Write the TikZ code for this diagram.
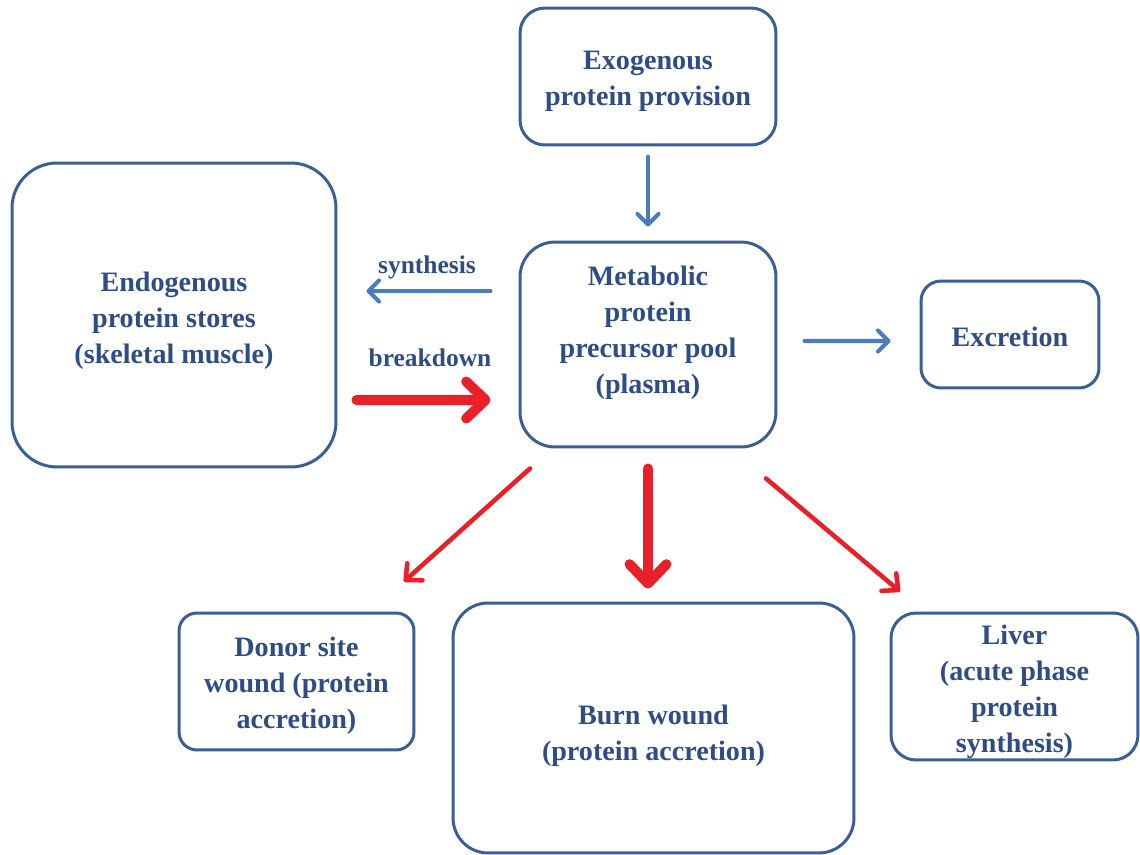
\documentclass[tikz,border=0pt]{standalone}
\usepackage{fontspec}
\setmainfont{Liberation Serif}
\usetikzlibrary{arrows.meta,calc}
\definecolor{boxblue}{HTML}{3B5E94}
\definecolor{txtblue}{HTML}{2E4C85}
\definecolor{arrblue}{HTML}{4A7CC0}
\definecolor{arrred}{HTML}{E8202A}
\tikzset{
  pbox/.style={draw=boxblue, line width=1.7pt, fill=white, inner sep=0pt},
  ptext/.style={text=txtblue, align=center, inner sep=0pt, font=\bfseries\fontsize{16}{20.4}\selectfont},
  lbl/.style={text=txtblue, inner sep=0pt, font=\bfseries\fontsize{14.5}{17}\selectfont},
  bluearr/.style={draw=arrblue, line width=2.3pt, line cap=round,
    -{Straight Barb[length=6pt,width=12pt,line cap=round,line join=round]}},
  redthin/.style={draw=arrred, line width=2.6pt, line cap=round,
    -{Straight Barb[length=7pt,width=13pt,line cap=round,line join=round]}},
  redthick/.style={draw=arrred, line width=5.7pt, line cap=round,
    -{Straight Barb[length=11pt,width=21pt,line cap=round,line join=round]}},
}
\begin{document}
\begin{tikzpicture}[x=0.02cm,y=-0.02cm]
\useasboundingbox[fill=white] (0,0) rectangle (1140,855);
% boxes
\node[pbox, minimum width=5.12cm, minimum height=2.74cm, rounded corners=0.5cm] (exo) at (648,76.5) {};
\node[ptext] (exot) at (648,81.5) {Exogenous\\protein provision};
\node[pbox, minimum width=6.48cm, minimum height=6.08cm, rounded corners=0.9cm] (endo) at (174,315) {};
\node[ptext] (endot) at (174,321) {Endogenous\\protein stores\\(skeletal muscle)};
\node[pbox, minimum width=5.12cm, minimum height=4.10cm, rounded corners=0.7cm] (meta) at (648,344.5) {};
\node[ptext] (metat) at (648,332.5) {Metabolic\\protein\\precursor pool\\(plasma)};
\node[pbox, minimum width=3.56cm, minimum height=2.14cm, rounded corners=0.4cm] (exc) at (1010,334.5) {};
\node[ptext] (exct) at (1010,336.5) {Excretion};
\node[pbox, minimum width=4.70cm, minimum height=2.74cm, rounded corners=0.36cm] (donor) at (296.5,681.5) {};
\node[ptext] (donort) at (296.5,685.5) {Donor site\\wound (protein\\accretion)};
\node[pbox, minimum width=8.02cm, minimum height=5.00cm, rounded corners=0.7cm] (burn) at (653.5,728) {};
\node[ptext] (burnt) at (653.5,736) {Burn wound\\(protein accretion)};
\node[pbox, minimum width=4.94cm, minimum height=2.94cm, rounded corners=0.5cm] (liver) at (1014.5,686.5) {};
\node[ptext] (livert) at (1014.5,692) {Liver\\(acute phase\\protein\\synthesis)};
% connectors
\draw[bluearr] ($(exo.south)+(0,10)$) -- ($(meta.north)+(0,-14)$);
\draw[bluearr] ($(meta.west)+(-28,-53.5)$) -- ($(endo.east)+(29,-24)$);
\node[lbl] (synl) at (427,267) {synthesis};
\draw[redthick] ($(endo.east)+(19,85)$) -- ($(meta.west)+(-28,55.5)$);
\node[lbl] (brkl) at (430,358) {breakdown};
\draw[bluearr] ($(meta.east)+(27,-3.5)$) -- ($(exc.west)+(-29,6.5)$);
\draw[redthin] ($(meta.south)+(-118,20)$) -- ($(donor.north)+(107.5,-30)$);
\draw[redthick] ($(meta.south)+(0,20)$) -- ($(burn.north)+(-5.5,-13)$);
\draw[redthin] ($(meta.south)+(118,30)$) -- ($(liver.north)+(-114.5,-20)$);
\end{tikzpicture}
\end{document}
